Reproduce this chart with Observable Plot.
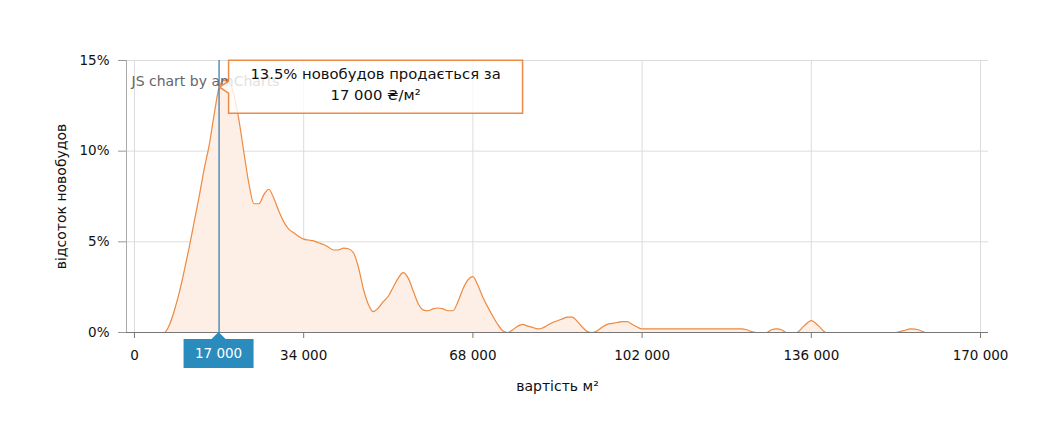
<!DOCTYPE html>
<html><head><meta charset="utf-8">
<script src="https://cdn.jsdelivr.net/npm/d3@7"></script>
<script src="https://cdn.jsdelivr.net/npm/@observablehq/plot@0.6"></script>
<style>
body{margin:0;background:#fff;}
#chart svg{display:block;}
</style></head><body><div id="chart"></div>
<script>
const prices = [0,2000,4000,6000,7000,8000,9000,10000,11000,12000,13000,14000,15000,16000,17000,18000,19000,20000,21000,22000,23000,24000,25000,26000,27000,28000,29000,30000,31000,32000,33000,34000,35000,36000,37000,38000,39000,40000,41000,42000,43000,44000,45000,46000,47000,48000,49000,50000,51000,52000,53000,54000,55000,56000,57000,58000,59000,60000,61000,62000,63000,64000,65000,66000,67000,68000,69000,70000,71000,72000,73000,74000,75000,76000,77000,78000,79000,80000,81000,82000,83000,84000,85000,86000,87000,88000,89000,90000,91000,92000,93000,94000,95000,96000,97000,98000,99000,100000,101000,102000,110000,122000,123000,124000,125000,127000,128000,129000,130000,131000,133000,134500,136000,137500,139000,153000,154500,156000,157500,159000,170000];
const shares = [0,0,0,0,0.4,1.2,2.2,3.4,4.7,6.1,7.5,9.0,10.3,12.0,13.5,13.9,13.8,13.1,11.7,9.9,8.2,7.1,7.1,7.6,7.9,7.4,6.7,6.1,5.7,5.5,5.3,5.15,5.1,5.05,4.95,4.85,4.7,4.55,4.55,4.65,4.62,4.4,3.6,2.4,1.55,1.15,1.35,1.7,2.0,2.5,3.0,3.3,3.0,2.3,1.6,1.25,1.2,1.3,1.35,1.3,1.2,1.2,1.7,2.4,2.9,3.08,2.6,1.95,1.4,0.9,0.45,0.1,0,0.15,0.35,0.45,0.35,0.28,0.2,0.25,0.4,0.55,0.65,0.75,0.85,0.85,0.6,0.3,0.05,0,0.1,0.3,0.45,0.5,0.55,0.6,0.6,0.45,0.3,0.2,0.2,0.2,0.15,0.05,0,0,0.15,0.2,0.15,0,0,0.35,0.66,0.35,0,0,0.1,0.2,0.15,0,0];
const xTicks = [0,34000,68000,102000,136000,170000];
const yTicks = [0,5,10,15];
const xDomain = [-1600,171600];
const yDomain = [0,15];
const selectedPrice = 17000;
const selectedShare = 13.5;
const tooltipLines = ["13.5% новобудов продається за", "17 000 ₴/м²"];
const cursorLabel = "17 000";
const xTitle = "вартість м²";
const yTitle = "відсоток новобудов";
const credit = "JS chart by amCharts";

(function(){
const data = prices.map((p,i)=>({price:p, share:shares[i]}));
const fmt = d => d3.format(",")(d).replace(/,/g," ");
const FONT = "DejaVu Sans, Verdana, sans-serif";

const plot = Plot.plot({
  width:1046, height:430,
  marginLeft:126, marginRight:58, marginTop:60, marginBottom:98,
  style:{fontFamily:FONT, fontSize:"13.5px", color:"#111", background:"#fff", overflow:"visible"},
  x:{domain:xDomain},
  y:{domain:yDomain},
  marks:[
    Plot.gridX(xTicks,{stroke:"#dcdcdc", strokeOpacity:1}),
    Plot.gridY(yTicks,{stroke:"#dcdcdc", strokeOpacity:1}),
    Plot.ruleX([xDomain[0]],{stroke:"#aaa"}),
    Plot.areaY(data,{x:"price", y:"share", fill:"#fdefe5", curve:"monotone-x"}),
    Plot.lineY(data,{x:"price", y:"share", stroke:"#ee8a42", strokeWidth:1.2, curve:"monotone-x"}),
    Plot.ruleY([0],{stroke:"#777"}),
    Plot.axisX(xTicks,{tickSize:6, tickPadding:12, tickFormat:fmt, label:null, stroke:"#777", fill:"#111"}),
    Plot.axisY(yTicks,{tickSize:8, tickPadding:9, tickFormat:d=>d+"%", label:null, stroke:"#999", fill:"#111"}),
    Plot.ruleX([selectedPrice],{stroke:"#3a80ad", strokeWidth:1.3}),
    Plot.text([credit],{frameAnchor:"top-left", dx:5, dy:16, textAnchor:"start", fill:"#666", fontSize:14}),
    Plot.text([xTitle],{frameAnchor:"bottom", dy:58, fill:"#111", fontSize:14}),
    Plot.text([yTitle],{frameAnchor:"left", textAnchor:"middle", dx:-65, rotate:-90, fill:"#111", fontSize:14})
  ]
});

const svg = d3.select(plot);
const sx = plot.scale("x"), sy = plot.scale("y");
const px = sx.apply(selectedPrice), py = sy.apply(selectedShare), y0 = sy.apply(0);

// balloon tooltip
const bl = px + 10, br = bl + 294, bt = py - 27, bb = py + 26;
const g = svg.append("g");
g.append("path")
  .attr("d", `M${bl},${bt}H${br}V${bb}H${bl}V${py+6}L${px+1},${py}L${bl},${py-6}Z`)
  .attr("fill","#fff").attr("fill-opacity",0.8)
  .attr("stroke","#ec8a48").attr("stroke-width",1.5);
tooltipLines.forEach((t,i)=>{
  g.append("text").attr("x",(bl+br)/2).attr("y",bt+15+i*21)
   .attr("text-anchor","middle").attr("dominant-baseline","middle")
   .attr("font-family",FONT).attr("font-size",14.8).attr("fill","#111").text(t);
});

// cursor label on x axis
const c = svg.append("g");
c.append("path").attr("d",`M${px-7},${y0+7}L${px},${y0}L${px+7},${y0+7}Z`).attr("fill","#2a8bbd");
c.append("rect").attr("x",px-35).attr("y",y0+7).attr("width",70).attr("height",29).attr("fill","#2a8bbd");
c.append("text").attr("x",px).attr("y",y0+22).attr("text-anchor","middle").attr("dominant-baseline","middle")
  .attr("font-family",FONT).attr("font-size",13.5).attr("fill","#fff").text(cursorLabel);

document.getElementById("chart").append(plot);
})();
</script></body></html>
